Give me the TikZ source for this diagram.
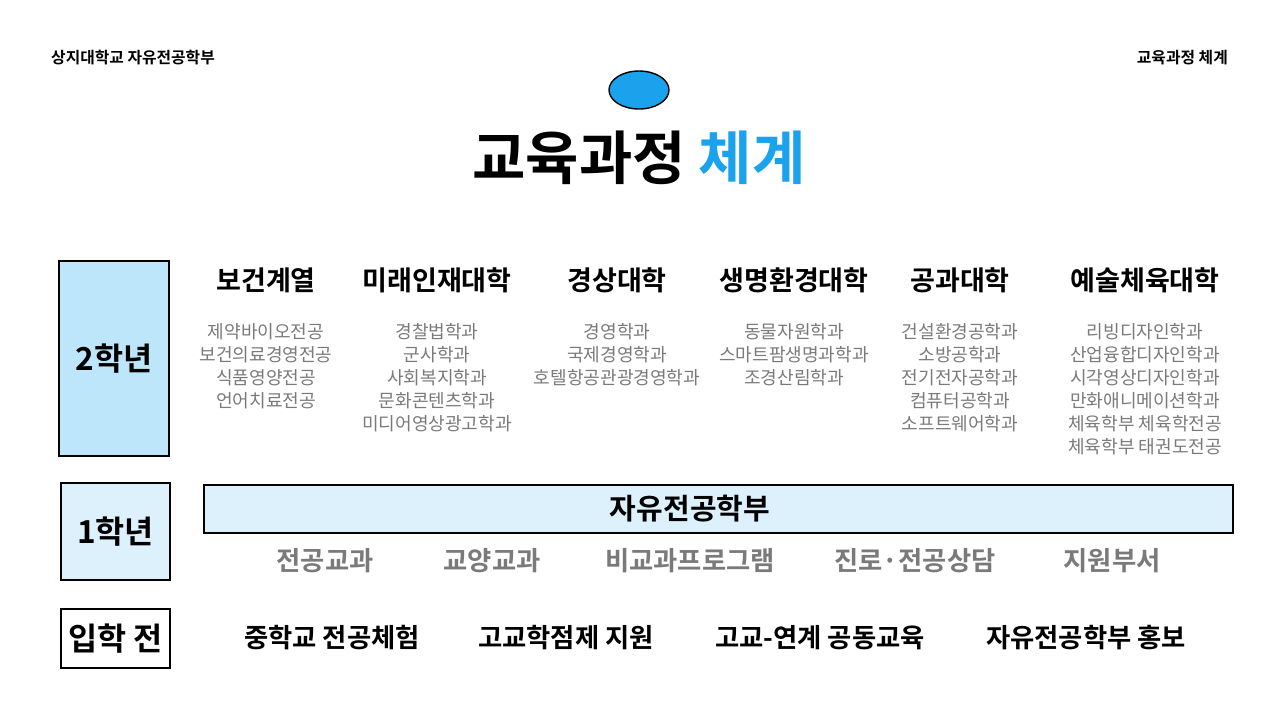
\documentclass[tikz,border=0pt]{standalone}
\usepackage{fontspec}
\setmainfont{Noto Sans CJK KR}[BoldFont={Noto Sans CJK KR Bold}]
\definecolor{tblue}{HTML}{1AA3EC}
\definecolor{lb}{HTML}{BDE6FB}
\definecolor{lb2}{HTML}{DCF1FC}
\definecolor{tg}{HTML}{7A7A7A}
\begin{document}
\begin{tikzpicture}[x=0.02cm,y=-0.02cm,
  hd/.style={font=\fontsize{15.4}{18}\selectfont\bfseries},
  lst/.style={font=\fontsize{10.3}{13.1}\selectfont, text=tg, align=center, anchor=north},
  row1/.style={font=\fontsize{15}{18}\selectfont\bfseries, text=tg},
  row0/.style={font=\fontsize{15}{18}\selectfont\bfseries},
  yr/.style={draw=black, line width=0.8pt, font=\fontsize{18}{20}\selectfont\bfseries}]
\useasboundingbox (0,0) rectangle (1280,718);
\node[anchor=west,font=\fontsize{9}{11}\selectfont\bfseries] (tl) at (45,58) {상지대학교 자유전공학부};
\node[anchor=east,font=\fontsize{9}{11}\selectfont\bfseries] (tr) at (1234,58) {교육과정 체계};
\draw[fill=tblue, line width=0.8pt] (639,90) ellipse [x radius=30, y radius=19];
\node[font=\fontsize{33}{36}\selectfont\bfseries] (title) at (639,158) {교육과정 \textcolor{tblue}{체계}};
\node[yr, fill=lb, minimum width=110*0.02cm, minimum height=195*0.02cm] (y2) at (114,358.5) {2학년};
\node[yr, fill=lb2, minimum width=109*0.02cm, minimum height=97*0.02cm] (y1) at (115.5,531.5) {1학년};
\node[yr, fill=white, minimum width=109*0.02cm, minimum height=59*0.02cm] (y0) at (115.5,638.5) {입학 전};
\node[hd] (h1) at (266,280) {보건계열};
\node[hd] (h2) at (437,280) {미래인재대학};
\node[hd] (h3) at (617,280) {경상대학};
\node[hd] (h4) at (794,280) {생명환경대학};
\node[hd] (h5) at (960,280) {공과대학};
\node[hd] (h6) at (1145,280) {예술체육대학};
\node[lst] (l1) at (266,317) {제약바이오전공\\보건의료경영전공\\식품영양전공\\언어치료전공};
\node[lst] (l2) at (437,317) {경찰법학과\\군사학과\\사회복지학과\\문화콘텐츠학과\\미디어영상광고학과};
\node[lst] (l3) at (617,317) {경영학과\\국제경영학과\\호텔항공관광경영학과};
\node[lst] (l4) at (794,317) {동물자원학과\\스마트팜생명과학과\\조경산림학과};
\node[lst] (l5) at (960,317) {건설환경공학과\\소방공학과\\전기전자공학과\\컴퓨터공학과\\소프트웨어학과};
\node[lst] (l6) at (1145,317) {리빙디자인학과\\산업융합디자인학과\\시각영상디자인학과\\만화애니메이션학과\\체육학부 체육학전공\\체육학부 태권도전공};
\draw[fill=lb2, line width=0.8pt] (204,485) rectangle (1233,533);
\node[font=\fontsize{16.5}{19}\selectfont\bfseries] (bar) at (690,509) {자유전공학부};
\node[row1] (a1) at (325,561) {전공교과};
\node[row1] (a2) at (492,561) {교양교과};
\node[row1] (a3) at (690,561) {비교과프로그램};
\node[row1] (a4) at (915,561) {진로·전공상담};
\node[row1] (a5) at (1112,561) {지원부서};
\node[row0] (b1) at (332,638) {중학교 전공체험};
\node[row0] (b2) at (566,638) {고교학점제 지원};
\node[row0] (b3) at (820,638) {고교-연계 공동교육};
\node[row0] (b4) at (1086,638) {자유전공학부 홍보};
\end{tikzpicture}
\end{document}
